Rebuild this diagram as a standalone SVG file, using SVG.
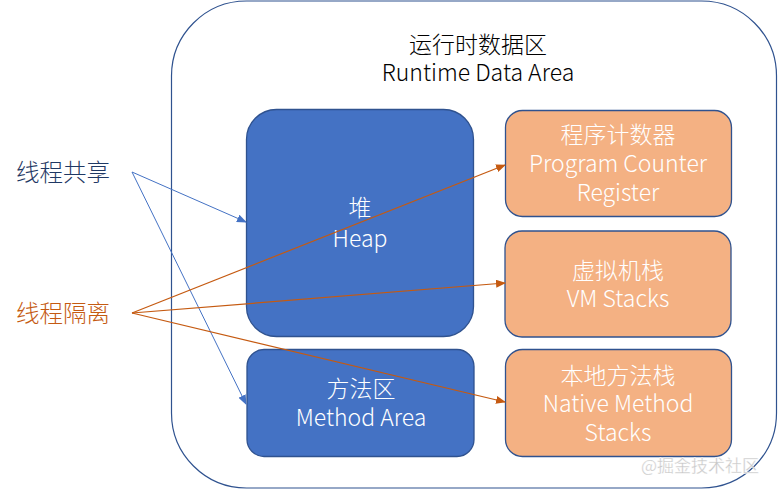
<svg xmlns="http://www.w3.org/2000/svg" width="779" height="490" viewBox="0 0 779 490">
<defs>
<style>
.t{font-family:"Noto Sans CJK SC","Noto Sans",sans-serif;font-size:23px;text-anchor:middle;font-weight:300}
.w{fill:#ffffff}
.blue{fill:#4472C4;stroke:#2F528F;stroke-width:1.3}
.org{fill:#F4B183;stroke:#2F528F;stroke-width:1.3}
.lb{stroke:#4472C4;stroke-width:1;fill:none}
.lo{stroke:#C55A11;stroke-width:1.2;fill:none}
</style>
<marker id="ab" markerWidth="10" markerHeight="8" refX="9" refY="4" orient="auto" markerUnits="userSpaceOnUse"><path d="M0,0 L10,4 L0,8 Z" fill="#4472C4"/></marker>
<marker id="ao" markerWidth="10" markerHeight="8" refX="9" refY="4" orient="auto" markerUnits="userSpaceOnUse"><path d="M0,0 L10,4 L0,8 Z" fill="#C55A11"/></marker>
</defs>
<rect width="779" height="490" fill="#ffffff"/>
<g id="runtime-data-area">
<rect x="171.5" y="1" width="605" height="487" rx="75" ry="75" fill="none" stroke="#2F528F" stroke-width="1.2"/>
<text class="t" x="478" y="53" fill="#000">运行时数据区</text>
<text class="t" x="478" y="81" fill="#000">Runtime Data Area</text>
</g>
<g id="heap">
<rect class="blue" x="246.5" y="109.5" width="227" height="227" rx="30" ry="30"/>
<text class="t w" x="360" y="216">堆</text>
<text class="t w" x="360" y="247">Heap</text>
</g>
<g id="method-area">
<rect class="blue" x="247" y="349.5" width="227" height="107" rx="17" ry="17"/>
<text class="t w" x="361" y="397">方法区</text>
<text class="t w" x="361" y="426">Method Area</text>
</g>
<g id="pc-register">
<rect class="org" x="505.5" y="110.5" width="226" height="106" rx="17" ry="17"/>
<text class="t w" x="618" y="143">程序计数器</text>
<text class="t w" x="618" y="172">Program Counter</text>
<text class="t w" x="618" y="201">Register</text>
</g>
<g id="vm-stacks">
<rect class="org" x="505" y="231" width="226" height="106" rx="17" ry="17"/>
<text class="t w" x="618" y="279">虚拟机栈</text>
<text class="t w" x="618" y="307">VM Stacks</text>
</g>
<g id="native-method-stacks">
<rect class="org" x="505.5" y="349.5" width="226" height="107" rx="17" ry="17"/>
<text class="t w" x="618" y="384">本地方法栈</text>
<text class="t w" x="618" y="412">Native Method</text>
<text class="t w" x="618" y="441">Stacks</text>
</g>
<g id="thread-shared">
<text class="t" x="63" y="181" fill="#1F3864" style="font-size:23.5px">线程共享</text>
</g>
<g id="thread-isolated">
<text class="t" x="63" y="322" fill="#C55A11" style="font-size:23.5px">线程隔离</text>
</g>
<g id="connectors">
<line class="lb" x1="132" y1="172" x2="246" y2="222" marker-end="url(#ab)"/>
<line class="lb" x1="132" y1="172" x2="246" y2="404" marker-end="url(#ab)"/>
<line class="lo" x1="132" y1="313" x2="505" y2="165" marker-end="url(#ao)"/>
<line class="lo" x1="132" y1="313" x2="505" y2="283" marker-end="url(#ao)"/>
<line class="lo" x1="132" y1="313" x2="505" y2="402" marker-end="url(#ao)"/>
</g>
<g id="watermark">
<text x="700" y="472" style="font-family:'Noto Sans CJK SC',sans-serif;font-size:17px;text-anchor:middle" fill="#c8c8c8" stroke="#ffffff" stroke-width="0.3">@掘金技术社区</text>
</g>
</svg>
